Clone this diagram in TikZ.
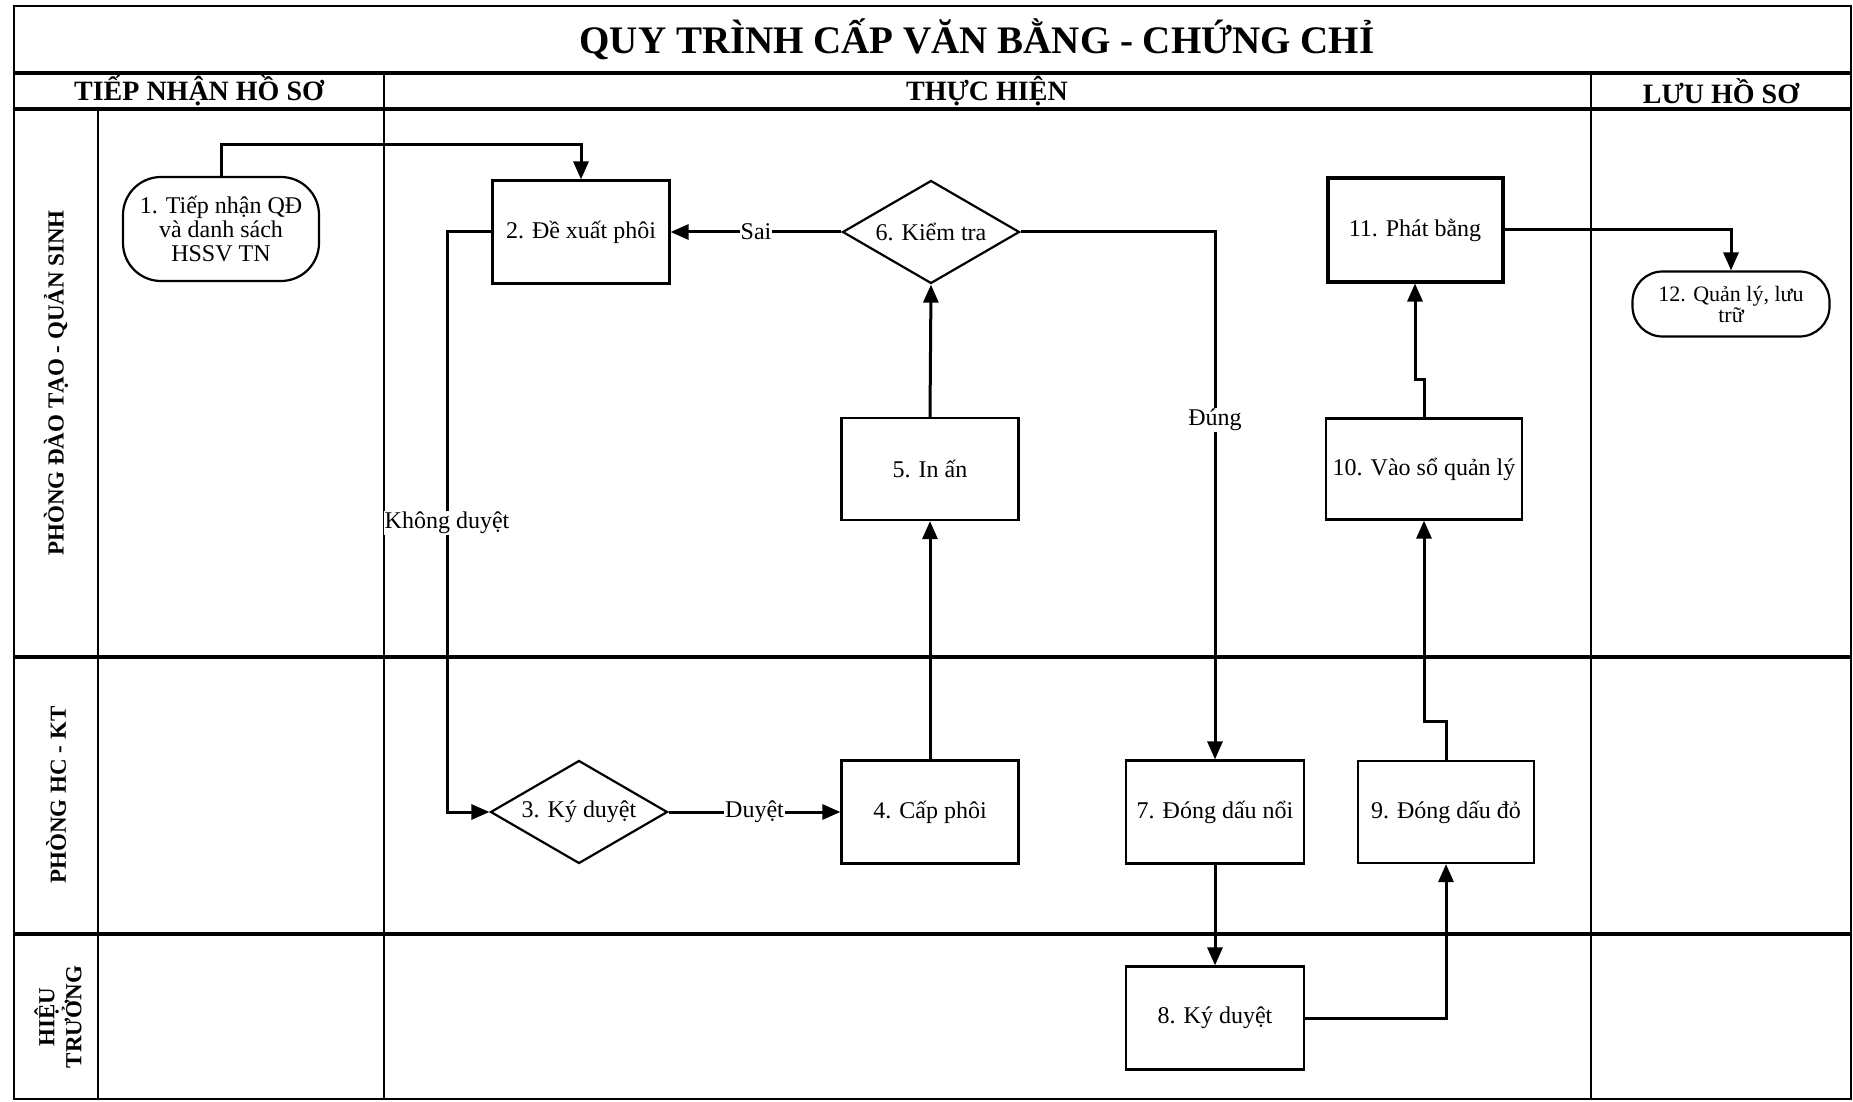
\documentclass[tikz,border=0pt]{standalone}
\usepackage{fontspec}
\setmainfont{Liberation Serif}
\usetikzlibrary{shapes.geometric,arrows.meta}
\begin{document}
\begin{tikzpicture}[x=1pt,y=-1pt,
  txt/.style={font=\fontsize{24}{25}\selectfont},
  box/.style={txt, draw, line width=2.2pt, minimum width=177pt, minimum height=103pt, inner sep=2pt, align=center},
  dia/.style={txt, draw, diamond, line width=2.2pt, minimum width=177pt, minimum height=103pt, inner sep=0pt, shape aspect=1.7},
  term/.style={txt, draw, line width=2.2pt, rounded corners=38pt, align=center, inner sep=2pt},
  conn/.style={line width=3pt, -{Triangle[length=18pt,width=15pt]}},
  lbl/.style={txt, fill=white, inner sep=1pt},
  lane/.style={line width=1.8pt},
  sep/.style={line width=3.2pt},
  hdr/.style={font=\fontsize{28}{29}\selectfont\bfseries},
  lanelbl/.style={font=\fontsize{23}{25}\selectfont\bfseries, rotate=90, align=center}
]
\useasboundingbox[fill=white] (0,0) rectangle (1853,1102);

% frame and grid
\draw[lane, line width=2.4pt] (14,6) rectangle (1851,1099);
\draw[sep] (14,73) -- (1851,73);
\draw[sep] (14,109) -- (1851,109);
\draw[sep] (14,657) -- (1851,657);
\draw[sep] (14,934) -- (1851,934);
\draw[lane] (98,109) -- (98,1099);
\draw[lane] (384,73) -- (384,1099);
\draw[lane] (1591,73) -- (1591,1099);

% title and headers
\node[font=\fontsize{39}{40}\selectfont\bfseries] (title) at (977,39) {QUY TRÌNH CẤP VĂN BẰNG - CHỨNG CHỈ};
\node[hdr] (h1) at (199,91) {TIẾP NHẬN HỒ SƠ};
\node[hdr] (h2) at (987,91) {THỰC HIỆN};
\node[hdr] (h3) at (1721,91) {LƯU HỒ SƠ};

% lane labels
\node[lanelbl] (l1) at (56,383) {PHÒNG ĐÀO TẠO - QUẢN SINH};
\node[lanelbl] (l2) at (56,795) {PHÒNG HC - KT};
\node[lanelbl, font=\fontsize{23}{27}\selectfont\bfseries] (l3) at (58,1017) {HIỆU\\TRƯỞNG};

% nodes
\node[term, minimum width=196pt, minimum height=104pt, font=\fontsize{24}{24}\selectfont] (n1) at (221,229) {1. Tiếp nhận QĐ\\và danh sách\\HSSV TN};
\node[box] (n2) at (581,232) {2. Đề xuất phôi};
\node[dia] (n6) at (931,232) {6. Kiểm tra};
\node[box, line width=4pt, minimum width=175pt] (n11) at (1415,230) {11. Phát bằng};
\node[term, rounded corners=30pt, minimum width=197pt, minimum height=65pt, font=\fontsize{22}{21}\selectfont] (n12) at (1731,304) {12. Quản lý, lưu\\trữ};
\node[box, minimum height=102pt] (n5) at (930,469) {5. In ấn};
\node[box, minimum width=196pt, minimum height=101pt] (n10) at (1424,469) {10. Vào sổ quản lý};
\node[dia] (n3) at (579,812) {3. Ký duyệt};
\node[box] (n4) at (930,812) {4. Cấp phôi};
\node[box, minimum width=178pt] (n7) at (1215,812) {7. Đóng dấu nổi};
\node[box, minimum width=176pt, minimum height=102pt] (n9) at (1446,812) {9. Đóng dấu đỏ};
\node[box, minimum width=178pt] (n8) at (1215,1018) {8. Ký duyệt};

% connectors
\coordinate (t12) at (581,145);
\draw[conn] (n1.north) |- (t12) -- (n2.north);
\draw[conn] (n6.west) -- node[lbl] (sai) {Sai} (n2.east);
\coordinate (k1) at (447,232);
\draw[conn] (n2.west) -- (k1) |- (n3.west);
\node[lbl] (kd) at (447,523) {Không duyệt};
\draw[conn] (n3.east) -- node[lbl] (duyet) {Duyệt} (n4.west);
\draw[conn] (n4.north) -- (n5.south);
\draw[conn] (n5.north) -- (n6.south);
\coordinate (d1) at (1215,232);
\draw[conn] (n6.east) -- (d1) -- (n7.north);
\node[lbl] (dung) at (1215,420) {Đúng};
\draw[conn] (n7.south) -- (n8.north);
\draw[conn] (n8.east) -| (n9.south);
\draw[conn] (n9.north) -- ++(0,-38) -| (n10.south);
\draw[conn] (n10.north) -- ++(0,-38) -| (n11.south);
\draw[conn] (n11.east) -| (n12.north);
\end{tikzpicture}
\end{document}
